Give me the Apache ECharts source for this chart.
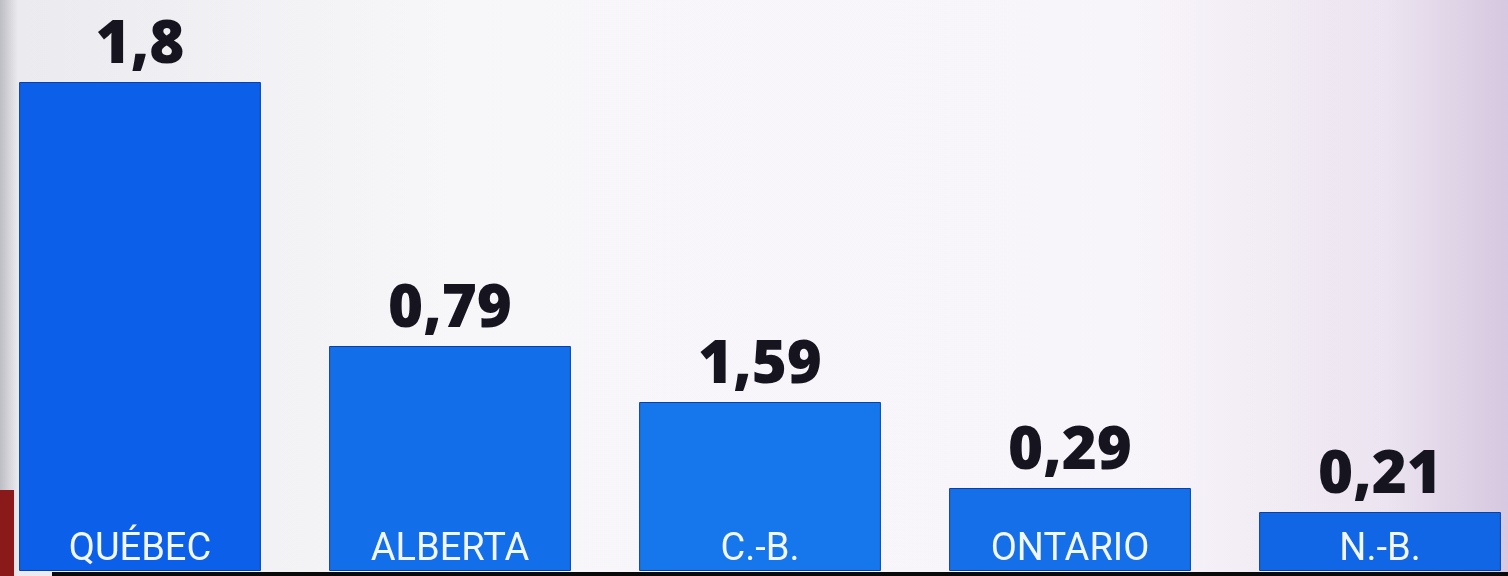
<!DOCTYPE html>
<html>
<head>
<meta charset="utf-8">
<script src="https://cdn.jsdelivr.net/npm/echarts@6/dist/echarts.min.js"></script>
<style>
  html, body { margin: 0; padding: 0; }
  #show { width: 1508px; height: 576px; }
</style>
</head>
<body>
<div id="show"></div>
<script>
var myChart = echarts.init(document.getElementById("show"));

// provinces as shown on the graphic
var provinces = ['QUÉBEC', 'ALBERTA', 'C.-B.', 'ONTARIO', 'N.-B.'];
// printed values above the bars
var valueLabels = ['1,8', '0,79', '1,59', '0,29', '0,21'];
// bar heights as drawn on screen (the graphic is not to scale)
var barHeights = [489, 225, 169, 83, 59];
var barColors = ['#0b5fe8', '#136ee9', '#1677ec', '#156fe8', '#1066e4'];

myChart.setOption(option = {
    backgroundColor: {
        type: 'linear', x: 0, y: 0, x2: 1, y2: 0,
        colorStops: [
            {offset: 0, color: '#bdbdc4'},
            {offset: 0.012, color: '#ebebef'},
            {offset: 0.3, color: '#f7f6f9'},
            {offset: 0.75, color: '#f8f5fa'},
            {offset: 0.92, color: '#ece4f0'},
            {offset: 1, color: '#d6c8e0'}
        ]
    },
    animation: false,
    grid: {
        left: -15,
        right: -27,
        top: 71,
        bottom: 5,
        outerBoundsMode: 'none'
    },
    xAxis: {
        type: 'category',
        data: provinces,
        axisLine: {show: false},
        axisTick: {show: false},
        axisLabel: {
            inside: true,
            margin: 1,
            color: '#f2f6ff',
            fontFamily: 'Roboto',
            fontWeight: 400,
            fontSize: 38,
            verticalAlign: 'bottom',
            lineHeight: 40
        },
        z: 10
    },
    yAxis: {
        type: 'value',
        min: 0,
        max: 500,
        show: false,
        splitLine: {show: false}
    },
    series: [
        {
            type: 'bar',
            data: barHeights.map(function (h, i) {
                return {value: h, itemStyle: {color: barColors[i]}};
            }),
            barCategoryGap: '22%',
            itemStyle: {
                borderColor: '#0b3fa8',
                borderWidth: 1
            },
            label: {
                show: true,
                position: 'top',
                distance: 6,
                formatter: function (p) { return valueLabels[p.dataIndex]; },
                color: '#15141f',
                fontFamily: 'Open Sans',
                fontWeight: 800,
                fontSize: 60
            }
        }
    ],
    graphic: [
        {type: 'rect', left: 0, top: 490, shape: {width: 14, height: 86}, style: {fill: '#8a1a1a'}},
        {type: 'rect', left: 52, top: 572, shape: {width: 1456, height: 4}, style: {fill: '#0a0a0a'}}
    ]
});
</script>
</body>
</html>
